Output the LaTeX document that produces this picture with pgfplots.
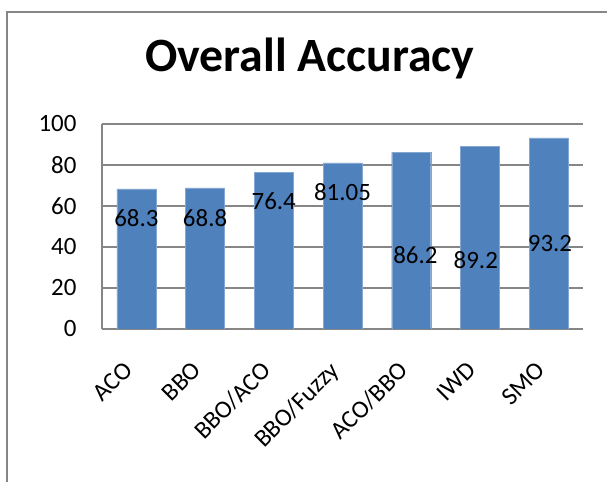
\documentclass[border=0pt]{standalone}
\usepackage{pgfplots}
\pgfplotsset{compat=1.18}
\usepackage{fontspec}
\setmainfont{Carlito}
\definecolor{barblue}{HTML}{4F81BD}
\definecolor{gridgray}{HTML}{868686}
\begin{document}
\begin{tikzpicture}[x=1bp,y=1bp]
\useasboundingbox (0,0) rectangle (607,482);
\draw[color=gridgray, line width=2bp] (7,0) -- (7,470) -- (607,470);
\node[font=\bfseries\fontsize{48}{52}\selectfont, anchor=base, inner sep=0pt] at (310,410) {Overall Accuracy};
\begin{axis}[
  at={(102bp,153bp)}, anchor=south west,
  scale only axis, width=481bp, height=205bp,
  xmin=-0.5, xmax=6.5, ymin=0, ymax=100,
  ytick={0,20,...,100},
  xtick={0,...,6},
  xticklabels={ACO,BBO,BBO/ACO,BBO/Fuzzy,ACO/BBO,IWD,SMO},
  axis x line*=bottom, axis y line*=left,
  axis line style={gridgray, line width=1.5bp},
  ymajorgrids, grid style={gridgray, line width=1.5bp},
  major tick length=0pt,
  tick label style={font=\fontsize{25}{30}\selectfont},
  /pgf/number format/assume math mode=true,
  yticklabel style={xshift=-22bp},
  xticklabel style={xshift=-14bp, yshift=-26bp, rotate=45, anchor=north east},
]
\addplot[ybar, bar width=39bp, fill=barblue, draw=barblue!70!white] coordinates {(0,68.3) (1,68.8) (2,76.4) (3,81.05) (4,86.2) (5,89.2) (6,93.2)};
\addplot[only marks, mark=none, nodes near coords, point meta=explicit symbolic,
  nodes near coords style={anchor=center, font=\fontsize{25}{30}\selectfont, text=black}] table[meta=label] {
x y label
0 53.9 68.3
1 53.9 68.8
2 62.4 76.4
3 67 81.05
4.06 36 86.2
4.94 33.7 89.2
6.02 41.7 93.2
};
\end{axis}
\end{tikzpicture}
\end{document}
